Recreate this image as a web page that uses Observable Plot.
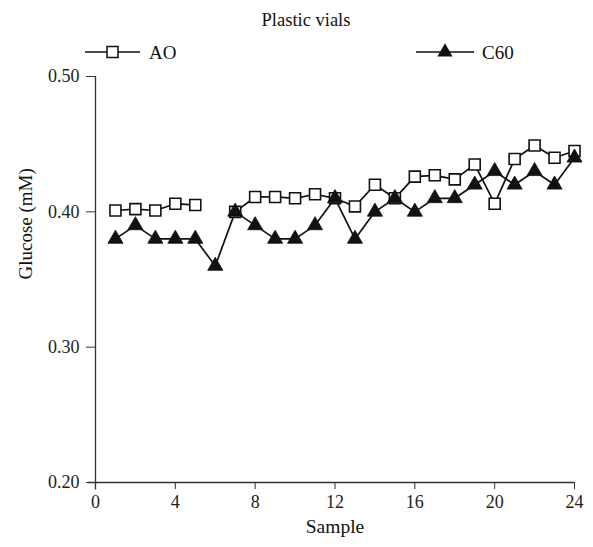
<!DOCTYPE html>
<html><head><meta charset="utf-8">
<script src="https://cdn.jsdelivr.net/npm/d3@7"></script>
<script src="https://cdn.jsdelivr.net/npm/@observablehq/plot@0.6"></script>
<style>
body{margin:0;background:#fff;font-family:"Liberation Serif","Times New Roman",serif;}
#wrap{width:593px;height:547px;position:relative;overflow:hidden;}
#head{height:70px;}
</style></head><body>
<div id="wrap"><div id="head"></div><div id="chart"></div></div>
<script>
const title = "Plastic vials";
const seriesNames = ["AO", "C60"];
const samples = [1,2,3,4,5,6,7,8,9,10,11,12,13,14,15,16,17,18,19,20,21,22,23,24];
const aoValues = [0.401,0.402,0.401,0.406,0.405,null,0.400,0.411,0.411,0.410,0.413,0.410,0.404,0.420,0.410,0.426,0.427,0.424,0.435,0.406,0.439,0.449,0.440,0.445];
const c60Values = [0.38,0.39,0.38,0.38,0.38,0.36,0.40,0.39,0.38,0.38,0.39,0.41,0.38,0.40,0.41,0.40,0.41,0.41,0.42,0.43,0.42,0.43,0.42,0.44];
const xTicks = [0,4,8,12,16,20,24];
const yTicks = [0.20,0.30,0.40,0.50];
const xLabel = "Sample";
const yLabel = "Glucose (mM)";

const aoData = samples.map((s,i)=>({x:s, y:aoValues[i]}));
const c60Data = samples.map((s,i)=>({x:s, y:c60Values[i]}));

// Header: title + legend
const head = d3.select("#head").append("svg").attr("width",593).attr("height",70)
  .style("font-family",'"Liberation Serif","Times New Roman",serif');
head.append("text").attr("x",306).attr("y",26).attr("text-anchor","middle")
  .attr("font-size",18.5).attr("fill","#111").text(title);
// AO legend
head.append("line").attr("x1",85).attr("x2",140).attr("y1",52).attr("y2",52).attr("stroke","#111").attr("stroke-width",1.6);
head.append("rect").attr("x",107).attr("y",46.5).attr("width",11).attr("height",11).attr("fill","#fff").attr("stroke","#111").attr("stroke-width",1.5);
head.append("text").attr("x",149).attr("y",58.5).attr("font-size",19).attr("fill","#111").text(seriesNames[0]);
// C60 legend
head.append("line").attr("x1",416).attr("x2",474).attr("y1",52).attr("y2",52).attr("stroke","#111").attr("stroke-width",1.6);
head.append("path").attr("transform","translate(445,52)").attr("d",d3.symbol(d3.symbolTriangle, 100)()).attr("fill","#111");
head.append("text").attr("x",482).attr("y",58.5).attr("font-size",19).attr("fill","#111").text(seriesNames[1]);

const chart = Plot.plot({
  width: 593,
  height: 477,
  marginTop: 6,
  marginBottom: 65,
  marginLeft: 95,
  marginRight: 19,
  style: {fontFamily: '"Liberation Serif","Times New Roman",serif', fontSize: "18px", color: "#222", background: "#fff", overflow: "visible"},
  x: {domain: [0, 24]},
  y: {domain: [0.2, 0.5]},
  marks: [
    Plot.ruleX([0], {y1: 0.1945, y2: 0.5, stroke: "#333", strokeWidth: 1.3}),
    Plot.ruleY([0.2], {x1: -0.35, x2: 24, stroke: "#333", strokeWidth: 1.3}),
    Plot.axisY({ticks: yTicks, tickFormat: d3.format(".2f"), tickSize: 9, tickPadding: 7, label: null, fontSize: 18, stroke: "#333"}),
    Plot.axisX({ticks: xTicks, tickFormat: d3.format("d"), tickSize: 7, tickPadding: 6, label: null, fontSize: 18, stroke: "#333"}),
    Plot.text([yLabel], {frameAnchor: "left", dx: -70, rotate: -90, fontSize: 19, fill: "#111"}),
    Plot.text([xLabel], {frameAnchor: "bottom", dy: 50, fontSize: 19.5, fill: "#111"}),
    Plot.line(aoData, {x: "x", y: "y", stroke: "#111", strokeWidth: 1.7}),
    Plot.line(c60Data, {x: "x", y: "y", stroke: "#111", strokeWidth: 1.7}),
    Plot.dot(aoData, {x: "x", y: "y", symbol: "square", r: 6.2, fill: "#fff", stroke: "#111", strokeWidth: 1.6}),
    Plot.dot(c60Data, {x: "x", y: "y", symbol: "triangle", r: 5.6, fill: "#111", stroke: "#111", strokeWidth: 0.8})
  ]
});
document.getElementById("chart").appendChild(chart);
</script>
</body></html>
